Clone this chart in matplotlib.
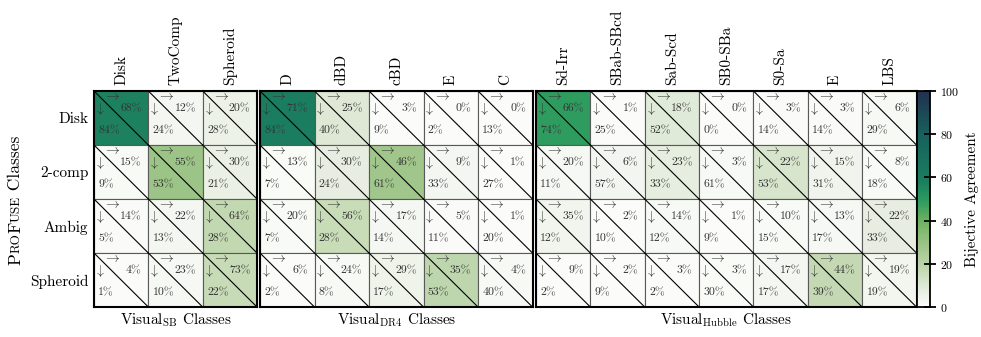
import matplotlib
matplotlib.use('Agg')
import matplotlib.pyplot as plt
from matplotlib.colors import LinearSegmentedColormap, Normalize
from matplotlib.patches import Rectangle
from matplotlib.font_manager import FontProperties
import numpy as np

plt.rcParams['font.family'] = 'cmr10'
plt.rcParams['mathtext.fontset'] = 'cm'
plt.rcParams['axes.unicode_minus'] = False
plt.rcParams['axes.formatter.use_mathtext'] = True

rows = ['Disk', '2-comp', 'Ambig', 'Spheroid']

# Visual_SB
sb_cols = ['Disk', 'TwoComp', 'Spheroid']
sb_right = [[68, 12, 20],
            [15, 55, 30],
            [14, 22, 64],
            [4, 23, 73]]
sb_down = [[84, 24, 28],
           [9, 53, 21],
           [5, 13, 28],
           [1, 10, 22]]

# Visual_DR4
dr4_cols = ['D', 'dBD', 'cBD', 'E', 'C']
dr4_right = [[71, 25, 3, 0, 0],
             [13, 30, 46, 9, 1],
             [20, 56, 17, 5, 1],
             [6, 24, 29, 35, 4]]
dr4_down = [[84, 40, 9, 2, 13],
            [7, 24, 61, 33, 27],
            [7, 28, 14, 11, 20],
            [2, 8, 17, 53, 40]]

# Visual_Hubble
hub_cols = ['Sd-Irr', 'SBab-SBcd', 'Sab-Scd', 'SB0-SBa', 'S0-Sa', 'E', 'LBS']
hub_right = [[66, 1, 18, 0, 3, 3, 6],
             [20, 6, 23, 3, 22, 15, 8],
             [35, 2, 14, 1, 10, 13, 22],
             [9, 2, 3, 3, 17, 44, 19]]
hub_down = [[74, 25, 52, 0, 14, 14, 29],
            [11, 57, 33, 61, 53, 31, 18],
            [12, 10, 12, 9, 15, 17, 33],
            [2, 9, 2, 30, 17, 39, 19]]

cmap = LinearSegmentedColormap.from_list('agree', [
    (0.0, '#fbfcfa'), (0.05, '#eef3ea'), (0.1, '#dde8d4'), (0.17, '#c3d9b2'),
    (0.29, '#9cc487'), (0.4, '#6db25e'), (0.49, '#2e9c5f'), (0.58, '#1b7f5f'),
    (0.8, '#17605e'), (1.0, '#22304f')])
norm = Normalize(0, 100)

W, H = 981, 337
fig = plt.figure(figsize=(W / 100, H / 100), dpi=100)

def px_axes(x0, x1, ytop, ybot):
    return fig.add_axes([x0 / W, (H - ybot) / H, (x1 - x0) / W, (ybot - ytop) / H])

def panel(ax, cols, right, down, xlabel, show_rows):
    nr, nc = len(rows), len(cols)
    for r in range(nr):
        for c in range(nc):
            val = right[r][c] * down[r][c] / 100
            ax.add_patch(Rectangle((c, r), 1, 1, facecolor=cmap(norm(val)),
                                   edgecolor='0.35', lw=0.8))
            ax.plot([c, c + 1], [r, r + 1], color='k', lw=0.8)
            ax.text(c + 0.33, r + 0.11, r'$\rightarrow$', ha='center', va='center',
                    fontsize=10, color='0.2')
            ax.text(c + 0.1, r + 0.33, r'$\downarrow$', ha='center', va='center',
                    fontsize=10, color='0.2')
            ax.text(c + 0.88, r + 0.33, '%d%%' % right[r][c], ha='right', va='center',
                    fontsize=8.5, color='0.2')
            ax.text(c + 0.08, r + 0.735, '%d%%' % down[r][c], ha='left', va='center',
                    fontsize=8.5, color='0.2')
    ax.set_xlim(0, nc)
    ax.set_ylim(nr, 0)
    ax.xaxis.tick_top()
    ax.set_xticks(np.arange(nc) + 0.5)
    ax.set_xticklabels(cols, rotation=90, fontsize=11)
    ax.set_yticks(np.arange(nr) + 0.5)
    if show_rows:
        ax.set_yticklabels(rows, fontsize=11)
    else:
        ax.set_yticklabels([])
    ax.tick_params(length=0, pad=4)
    ax.set_xlabel(xlabel, fontsize=11, labelpad=3)
    for s in ax.spines.values():
        s.set_linewidth(1.5)

ax1 = px_axes(94, 257, 91, 307)
ax2 = px_axes(260, 532.5, 91, 307)
ax3 = px_axes(536, 916.5, 91, 307)
panel(ax1, sb_cols, sb_right, sb_down, r'Visual$_{\mathrm{SB}}$ Classes', True)
panel(ax2, dr4_cols, dr4_right, dr4_down, r'Visual$_{\mathrm{DR4}}$ Classes', False)
panel(ax3, hub_cols, hub_right, hub_down, r'Visual$_{\mathrm{Hubble}}$ Classes', False)

cax = px_axes(916.5, 930, 91, 307)
sm = plt.cm.ScalarMappable(norm=norm, cmap=cmap)
cb = fig.colorbar(sm, cax=cax)
cb.set_ticks([0, 20, 40, 60, 80, 100])
cb.ax.tick_params(direction='inout', length=9, width=1.3, labelsize=8.5, pad=3)
cb.outline.set_linewidth(1.3)
cb.set_label('Bijective Agreement', fontsize=11, labelpad=4)

# small caps y label built from pieces
pieces = [('P', 12.5), ('RO', 9.5), ('F', 12.5), ('USE', 9.5), ('\u00a0Classes', 12.5)]
renderer = fig.canvas.get_renderer()
widths = []
for s, fs in pieces:
    w, h, d = renderer.get_text_width_height_descent(
        s, FontProperties(family='cmr10', size=fs), ismath=False)
    widths.append(w)
ypos = (H - 200) - sum(widths) / 2
for (s, fs), w in zip(pieces, widths):
    fig.text(20 / W, ypos / H, s, fontsize=fs, rotation=90, rotation_mode='anchor',
             ha='left', va='baseline')
    ypos += w

fig.savefig('out.png', dpi=100)
